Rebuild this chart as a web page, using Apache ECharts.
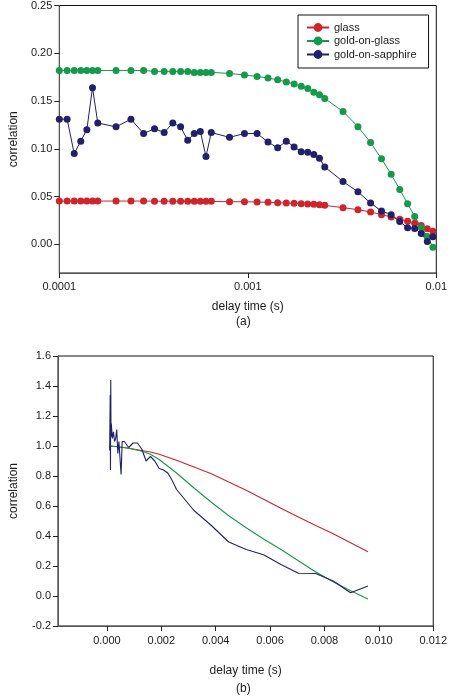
<!DOCTYPE html>
<html>
<head>
<meta charset="utf-8">
<script src="https://cdn.jsdelivr.net/npm/echarts@6/dist/echarts.min.js"></script>
<style>html,body{margin:0;padding:0;background:#fff;}#c{width:450px;height:700px;}</style>
</head>
<body>
<div id="c"></div>
<script>
// ---- Panel (a): delay times (s) and correlation values ----
const tauA = [1.0e-4,1.1e-4,1.2e-4,1.3e-4,1.4e-4,1.5e-4,1.6e-4,
  2.0e-4,2.4e-4,2.8e-4,3.2e-4,3.6e-4,4.0e-4,4.4e-4,4.8e-4,5.2e-4,5.6e-4,6.0e-4,6.4e-4,
  8.0e-4,9.6e-4,1.12e-3,1.28e-3,1.44e-3,1.60e-3,1.76e-3,1.92e-3,2.08e-3,2.24e-3,2.40e-3,2.56e-3,
  3.2e-3,3.84e-3,4.48e-3,5.12e-3,5.76e-3,6.4e-3,7.04e-3,7.68e-3,8.32e-3,8.96e-3,9.6e-3];
const glassA = [0.0453,0.0453,0.0453,0.0453,0.0453,0.0453,0.0453,
  0.0453,0.0453,0.0453,0.0452,0.0452,0.0452,0.0451,0.0451,0.0450,0.0450,0.0450,0.0450,
  0.0446,0.0446,0.0443,0.0440,0.0436,0.0432,0.0429,0.0426,0.0422,0.0419,0.0415,0.0408,
  0.0384,0.0363,0.0339,0.0311,0.0287,0.0263,0.0242,0.0221,0.0197,0.0163,0.0138];
const goldGlassA = [0.182,0.182,0.182,0.182,0.182,0.182,0.182,
  0.182,0.182,0.182,0.181,0.181,0.181,0.181,0.181,0.180,0.180,0.180,0.180,
  0.1789,0.1772,0.1758,0.1740,0.1723,0.1699,0.1678,0.1654,0.1630,0.1592,0.1567,0.1526,
  0.1391,0.1232,0.1066,0.0896,0.0734,0.0574,0.0426,0.0291,0.0177,0.0083,-0.0031];
const goldSapphireA = [0.131,0.131,0.095,0.108,0.120,0.164,0.127,
  0.123,0.131,0.116,0.121,0.117,0.127,0.123,0.109,0.116,0.118,0.092,0.117,
  0.112,0.116,0.116,0.107,0.101,0.108,0.102,0.097,0.0965,0.094,0.090,0.081,
  0.0657,0.055,0.0432,0.0349,0.0311,0.0239,0.0173,0.0166,0.0114,0.0031,0.008];
const ticksAX = [0.0001, 0.001, 0.01];
const ticksAY = [0, 0.05, 0.10, 0.15, 0.20, 0.25];

// ---- Panel (b): normalised correlation, linear time axis ----
const tauB = [0.0001,0.0004,0.0008,0.00128,0.0016,0.00192,0.00224,0.00256,0.0032,0.00384,
  0.00448,0.00512,0.00576,0.0064,0.00704,0.00768,0.00832,0.00896,0.0096];
const glassB = [1.0,0.995,0.985,0.97,0.96,0.945,0.925,0.905,0.86,0.815,
  0.76,0.705,0.645,0.585,0.527,0.47,0.415,0.355,0.295];
const goldGlassB = [1.0,0.995,0.985,0.965,0.945,0.91,0.865,0.82,0.72,0.625,
  0.535,0.455,0.38,0.31,0.235,0.16,0.095,0.035,-0.02];
const tauBSapphire = tauA;
const goldSapphireB = [0.97,1.15,1.34,0.84,1.44,1.06,1.15,
  1.05,1.095,1.03,1.05,1.11,0.95,1.03,1.02,0.81,1.03,1.02,1.03,
  0.99,1.02,1.02,0.98,0.90,0.93,0.90,0.85,0.84,0.82,0.77,0.71,
  0.57,0.47,0.36,0.31,0.275,0.21,0.152,0.15,0.10,0.022,0.067];
const ticksBX = [0, 0.002, 0.004, 0.006, 0.008, 0.010, 0.012];

const RED = '#d0242b', GREEN = '#149a48', BLUE = '#22206a';
const FONT = '"Liberation Sans", Arial, sans-serif';
const TXT = '#1a1a1a';

const zip = (xs, ys) => xs.map((x, i) => [x, ys[i]]);

const chart = echarts.init(document.getElementById('c'), null, {renderer: 'canvas'});

const axisLineStyle = {show: true, onZero: false, lineStyle: {color: '#555', width: 1}};
const tickStyle = {show: true, inside: false, length: 5, lineStyle: {color: '#222', width: 1}};
const labelStyle = {color: TXT, fontFamily: FONT, fontSize: 11};
const nameStyle = {color: TXT, fontFamily: FONT, fontSize: 12};

function markerSeries(name, xs, ys, color) {
  return {
    name, type: 'line', xAxisIndex: 0, yAxisIndex: 0,
    data: zip(xs, ys), symbol: 'circle', symbolSize: 7, showSymbol: true,
    lineStyle: {color, width: 1}, itemStyle: {color, borderWidth: 0},
    emphasis: {disabled: true}, animation: false, z: 3
  };
}
function plainSeries(name, xs, ys, color) {
  return {
    name, type: 'line', xAxisIndex: 1, yAxisIndex: 1,
    data: zip(xs, ys), symbol: 'none', showSymbol: false,
    lineStyle: {color, width: 1.1}, itemStyle: {color},
    emphasis: {disabled: true}, animation: false, z: 3
  };
}

chart.setOption({
  animation: false,
  backgroundColor: '#fff',
  textStyle: {fontFamily: FONT},
  grid: [
    {left: 51, right: 13, top: 4, height: 269, show: true, borderColor: '#111', borderWidth: 1, backgroundColor: 'transparent'},
    {left: 51, right: 14, top: 356, height: 270, show: true, borderColor: '#111', borderWidth: 1, backgroundColor: 'transparent'}
  ],
  legend: {
    data: ['glass', 'gold-on-glass', 'gold-on-sapphire'],
    orient: 'vertical', left: 298, top: 15, width: 129,
    padding: [7, 12, 8, 8], itemGap: 2.5, itemWidth: 22, itemHeight: 11,
    borderColor: '#111', borderWidth: 1, backgroundColor: '#fff',
    textStyle: {color: TXT, fontFamily: FONT, fontSize: 11},
    selectedMode: false
  },
  xAxis: [
    {
      gridIndex: 0, type: 'log', logBase: 10, min: 0.0001, max: 0.01,
      axisLine: axisLineStyle, axisTick: Object.assign({}, tickStyle, {customValues: ticksAX}),
      axisLabel: Object.assign({}, labelStyle, {margin: 8, customValues: ticksAX,
        formatter: v => String(Number(Number(v).toPrecision(1)))}),
      splitLine: {show: false}, minorTick: {show: false},
      name: 'delay time (s)', nameLocation: 'middle', nameGap: 28, nameTextStyle: nameStyle
    },
    {
      gridIndex: 1, type: 'value', min: -0.0018, max: 0.012,
      axisLine: axisLineStyle, axisTick: Object.assign({}, tickStyle, {customValues: ticksBX}),
      axisLabel: Object.assign({}, labelStyle, {margin: 9, customValues: ticksBX,
        formatter: v => Number(v).toFixed(3)}),
      splitLine: {show: false},
      name: 'delay time (s)', nameLocation: 'middle', nameGap: 39, nameTextStyle: nameStyle
    }
  ],
  yAxis: [
    {
      gridIndex: 0, type: 'value', min: -0.03, max: 0.25,
      axisLine: axisLineStyle,
      axisTick: Object.assign({}, tickStyle, {customValues: ticksAY}),
      axisLabel: Object.assign({}, labelStyle, {margin: 7, customValues: ticksAY,
        formatter: v => Number(v).toFixed(2)}),
      splitLine: {show: false},
      name: 'correlation', nameLocation: 'middle', nameGap: 38, nameRotate: 90, nameTextStyle: nameStyle
    },
    {
      gridIndex: 1, type: 'value', min: -0.2, max: 1.6, interval: 0.2,
      axisLine: axisLineStyle,
      axisTick: tickStyle,
      axisLabel: Object.assign({}, labelStyle, {margin: 7, formatter: v => Number(v).toFixed(1)}),
      splitLine: {show: false},
      name: 'correlation', nameLocation: 'middle', nameGap: 38, nameRotate: 90, nameTextStyle: nameStyle
    }
  ],
  graphic: [
    {type: 'text', left: 244 - 8, top: 316, style: {text: '(a)', fill: TXT, font: '12px ' + FONT}},
    {type: 'text', left: 244 - 8, top: 683, style: {text: '(b)', fill: TXT, font: '12px ' + FONT}}
  ],
  series: [
    markerSeries('glass', tauA, glassA, RED),
    markerSeries('gold-on-glass', tauA, goldGlassA, GREEN),
    markerSeries('gold-on-sapphire', tauA, goldSapphireA, BLUE),
    plainSeries('glass (b)', tauB, glassB, RED),
    plainSeries('gold-on-glass (b)', tauB, goldGlassB, GREEN),
    plainSeries('gold-on-sapphire (b)', tauBSapphire, goldSapphireB, BLUE)
  ]
});
</script>
</body>
</html>
